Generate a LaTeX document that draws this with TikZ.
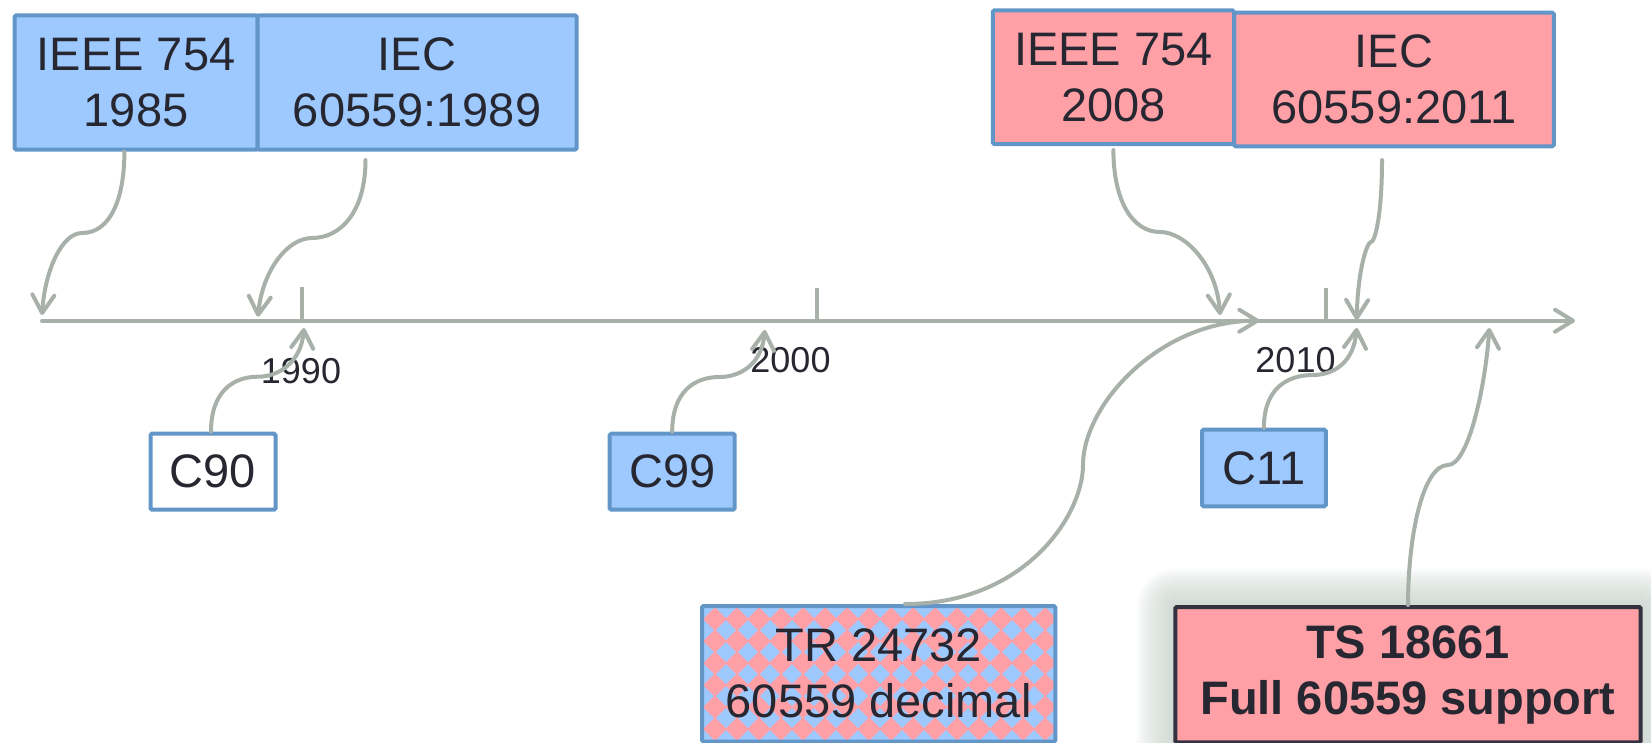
\documentclass[tikz,border=0pt]{standalone}
\usepackage{fontspec}
\setmainfont{Liberation Sans}
\usetikzlibrary{arrows.meta}
\pgfdeclarelayer{background}
\pgfsetlayers{background,main}

\definecolor{boxblue}{HTML}{9DC9FF}
\definecolor{edgeblue}{HTML}{6296C9}
\definecolor{boxpink}{HTML}{FFA0A7}
\definecolor{linkgray}{HTML}{A7B1AA}
\definecolor{inkdark}{HTML}{272731}
\definecolor{edgedark}{HTML}{33333F}
\definecolor{shadowc}{HTML}{C3CEC7}

\tikzset{
  stdbox/.style={draw=edgeblue, line width=4pt, rounded corners=1.5pt,
    inner sep=0pt, align=center, text=inkdark,
    font=\fontsize{47}{56}\selectfont},
  bluebox/.style={stdbox, fill=boxblue},
  pinkbox/.style={stdbox, fill=boxpink},
  plainbox/.style={stdbox, fill=white},
  tsbox/.style={stdbox, draw=edgedark, fill=boxpink,
    font=\fontsize{47}{56}\selectfont\bfseries},
  checkbox/.style={stdbox},
  link/.style={draw=linkgray, line width=4pt, line cap=round,
    -{Straight Barb[length=18pt,width=22pt,round]}},
  axisline/.style={link},
  tickline/.style={draw=linkgray, line width=4pt},
  yearlabel/.style={font=\fontsize{36}{40}\selectfont, text=inkdark,
    inner sep=0pt},
}

\begin{document}
\begin{tikzpicture}[x=1pt,y=1pt]
  \useasboundingbox (0,0) rectangle (1651,-742);
  \clip (0,0) rectangle (1651,-742);

  % standards boxes, top row
  \node[bluebox, minimum width=243pt, minimum height=134.4pt]
    (ieee85) at (136.1,-82.5) {IEEE 754\\1985};
  \node[bluebox, minimum width=319pt, minimum height=134.4pt]
    (iec89) at (417.1,-82.5) {IEC\\60559:1989};
  \node[pinkbox, minimum width=319.8pt, minimum height=133.6pt]
    (iec11) at (1393.9,-79.5) {IEC\\60559:2011};
  \node[pinkbox, minimum width=241.2pt, minimum height=133.7pt]
    (ieee08) at (1113.4,-77.2) {IEEE 754\\2008};

  % C language revisions
  \node[plainbox, minimum width=125pt, minimum height=76pt]
    (c90) at (213,-471.7) {C90};
  \node[bluebox, minimum width=125pt, minimum height=76pt]
    (c99) at (672.2,-471.7) {C99};
  \node[bluebox, minimum width=123.7pt, minimum height=76.6pt]
    (c11) at (1263.9,-468) {C11};

  % technical report / specification
  \node[checkbox, minimum width=353.3pt, minimum height=135.6pt]
    (tr) at (878.7,-673.8) {TR 24732\\60559 decimal};
  \node[tsbox, minimum width=465.4pt, minimum height=135.4pt]
    (ts) at (1408,-674.7) {TS 18661\\Full 60559 support};

  \begin{pgfonlayer}{background}
    % soft shadow behind the TS box
    \foreach \k in {1,...,16}
      \fill[shadowc, opacity=0.08, rounded corners=2.5*\k]
        (1175.3-2.4*\k,-607+2.4*\k) rectangle (1640.7+2.4*\k,-742.4-2.4*\k);
    % diamond check fill of the TR box
    \begin{scope}
      \clip (702,-606) rectangle (1055.3,-741.6);
      \fill[boxpink] (702,-606) rectangle (1055.3,-741.6);
      \foreach \i in {0,...,17}
        \foreach \j in {0,...,7}
          \fill[boxblue] (704+22*\i-10,-608-22*\j) -- ++(10,10) -- ++(10,-10)
            -- ++(-10,-10) -- cycle;
    \end{scope}
  \end{pgfonlayer}

  % time axis
  \coordinate (ax0) at (42,-320.7);
  \coordinate (ax1) at (1575,-320.7);
  \draw[axisline] (ax0) -- (ax1);

  \coordinate (y1990) at (301.6,-320.7);
  \coordinate (y2000) at (816.8,-320.7);
  \coordinate (y2010) at (1326,-320.7);
  \draw[tickline] (y1990) -- ++(0,34);
  \draw[tickline] (y2000) -- ++(0,33);
  \draw[tickline] (y2010) -- ++(0,33);

  \node[yearlabel] (l1990) at (301,-371.5) {1990};
  \node[yearlabel] (l2000) at (790.5,-359.7) {2000};
  \node[yearlabel] (l2010) at (1295.5,-360) {2010};

  % arrow targets on the axis
  \coordinate (t85) at (42,-315);
  \coordinate (t89) at (258,-316.7);
  \coordinate (t08) at (1220,-315);
  \coordinate (t11) at (1356.7,-320);
  \coordinate (tc90) at (304,-328);
  \coordinate (tc99) at (764.8,-330);
  \coordinate (tc11) at (1356.7,-328);
  \coordinate (tts) at (1489.3,-328);
  \coordinate (ttr) at (1259.3,-320.7);

  % bends of the connectors
  \coordinate (m85) at (82,-233);
  \coordinate (m89) at (312,-238);
  \coordinate (m08) at (1160,-232);
  \coordinate (m11) at (1371,-242);
  \coordinate (mc90) at (258,-376.7);
  \coordinate (mc99) at (719.4,-377);
  \coordinate (mc11) at (1313,-375);
  \coordinate (mts) at (1448,-465);
  \coordinate (mtr) at (1083,-465);

  % connectors from the standards down to the axis
  \draw[link] ([xshift=-11.7pt]ieee85.south)
    .. controls +(0,-48) and +(28,0) .. (m85)
    .. controls +(-20,0) and +(3,45) .. (t85);
  \draw[link] ([shift={(-51.6pt,-8.3pt)}]iec89.south)
    .. controls +(0,-50) and +(30,0) .. (m89)
    .. controls +(-25,0) and +(4,45) .. (t89);
  \draw[link] ([yshift=-4pt]ieee08.south)
    .. controls +(0,-50) and +(-28,0) .. (m08)
    .. controls +(25,0) and +(-3,50) .. (t08);
  \draw[link] ([shift={(-11.9pt,-11.7pt)}]iec11.south)
    .. controls +(0,-55) and +(4,0) .. (m11)
    .. controls +(-4,0) and +(1,50) .. (t11);

  % connectors from the C revisions up to the axis
  \draw[link] ([xshift=-2pt]c90.north)
    .. controls +(0,40) and +(-25,0) .. (mc90)
    .. controls +(20,0) and +(-3,-35) .. (tc90);
  \draw[link] (c99.north)
    .. controls +(0,40) and +(-25,0) .. (mc99)
    .. controls +(20,0) and +(-3,-35) .. (tc99);
  \draw[link] (c11.north)
    .. controls +(0,40) and +(-25,0) .. (mc11)
    .. controls +(20,0) and +(-3,-35) .. (tc11);

  % connectors from TR and TS
  \draw[link] ([xshift=26.3pt]tr.north)
    .. controls +(120,0) and +(0,-50) .. (mtr)
    .. controls +(0,60) and +(-100,0) .. (ttr);
  \draw[link] (ts.north)
    .. controls +(0,70) and +(-25,0) .. (mts)
    .. controls +(20,0) and +(-4,-60) .. (tts);
\end{tikzpicture}
\end{document}
